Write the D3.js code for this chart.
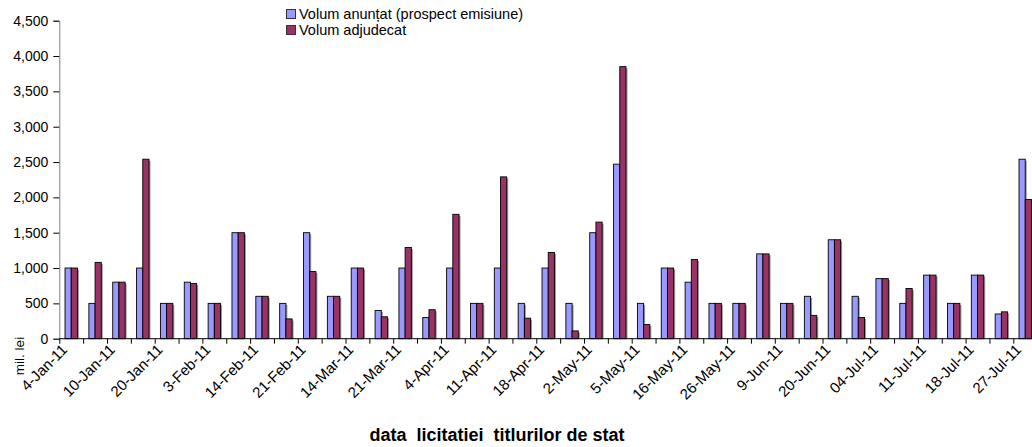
<!DOCTYPE html>
<html><head><meta charset="utf-8">
<script src="https://cdn.jsdelivr.net/npm/d3@7"></script>
<style>
html,body{margin:0;padding:0;background:#fff;overflow:hidden}
text{font-family:"Liberation Sans",Arial,sans-serif}
</style></head>
<body><svg id="c" width="1032" height="447"></svg>
<script>
// tick labels (every other category is labelled)
const tickLabels = ["4-Jan-11","10-Jan-11","20-Jan-11","3-Feb-11","14-Feb-11","21-Feb-11","14-Mar-11","21-Mar-11","4-Apr-11","11-Apr-11","18-Apr-11","2-May-11","5-May-11","16-May-11","26-May-11","9-Jun-11","20-Jun-11","04-Jul-11","11-Jul-11","18-Jul-11","27-Jul-11"];
// announced volume (mil. lei)
const anuntat = [1000,500,800,1000,500,800,500,1500,600,500,1500,600,1000,400,1000,300,1000,500,1000,500,1000,500,1500,2470,500,1000,800,500,500,1200,500,600,1400,600,850,500,900,500,900,350,2540];
// awarded volume (mil. lei)
const adjudecat = [1000,1080,800,2540,500,780,500,1500,600,280,950,600,1000,310,1290,410,1760,500,2290,290,1220,110,1650,3850,200,1000,1120,500,500,1200,500,330,1400,300,850,710,900,500,900,380,1970];
const seriesNames = ["Volum anunțat (prospect emisiune)","Volum adjudecat"];
const seriesColors = ["#9999FF","#993366"];
const yTicks = [0,500,1000,1500,2000,2500,3000,3500,4000,4500];

const FONT = "'Liberation Sans', Arial, sans-serif";
const svg = d3.select("#c");
const n = anuntat.length;
const x0 = 59.3, step = 23.85;
const idx = d3.range(n);
const x = d3.scaleBand().domain(idx).range([x0, x0 + step*n]).paddingInner(0.48).paddingOuter(0.24);
const xs = d3.scaleBand().domain([0,1]).range([0, x.bandwidth()]);
const y = d3.scaleLinear().domain([0,4500]).range([338.7, 20.7]);

const data = idx.map(i => ({i, v:[anuntat[i], adjudecat[i]]}));

// shadows
const g = svg.append("g");
data.forEach(d => {
  d.v.forEach((v,s) => {
    g.append("rect")
      .attr("x", x(d.i) + xs(s) + 1.5)
      .attr("y", y(v) + 1.5)
      .attr("width", xs.bandwidth())
      .attr("height", Math.max(0, y(0) - y(v) - 1.5))
      .attr("fill", "#999");
  });
});
data.forEach(d => {
  d.v.forEach((v,s) => {
    g.append("rect")
      .attr("x", x(d.i) + xs(s))
      .attr("y", y(v))
      .attr("width", xs.bandwidth())
      .attr("height", y(0) - y(v))
      .attr("fill", seriesColors[s])
      .attr("stroke", "#000")
      .attr("stroke-width", 0.9);
  });
});

// y axis
const ya = svg.append("g").attr("transform", `translate(${x0},0)`)
  .call(d3.axisLeft(y).tickValues(yTicks).tickSize(6).tickPadding(5).tickFormat(d3.format(",")));
ya.select(".domain").attr("stroke", "#808080");
ya.selectAll(".tick line").attr("stroke", "#000");
ya.selectAll("text").attr("font-size", 14).attr("fill", "#000").attr("font-family", FONT);

// x axis: boundaries ticks
const xb = d3.scaleLinear().domain([0,n]).range([x0, x0 + step*n]);
const xa = svg.append("g").attr("transform", `translate(0,${y(0)})`)
  .call(d3.axisBottom(xb).tickValues(d3.range(n+1)).tickSize(5).tickFormat(""));
xa.select(".domain").attr("stroke", "#000").attr("d", `M${x0},0H${x0+step*n}`);
xa.selectAll(".tick line").attr("stroke", "#000");

// x labels
svg.append("g").selectAll("text").data(tickLabels).join("text")
  .attr("transform", (d,k) => `translate(${x(k*2) + x.bandwidth()/2 - 3},${y(0)+12}) rotate(-45)`)
  .attr("text-anchor", "end")
  .attr("font-size", 15)
  .attr("fill", "#000")
  .text(d => d);

// y axis title
svg.append("text")
  .attr("transform", `translate(24,356) rotate(-90)`)
  .attr("text-anchor", "middle")
  .attr("font-size", 13.5)
  .text("mil. lei");

// x axis title
svg.append("text")
  .attr("x", 497).attr("y", 441)
  .attr("text-anchor", "middle")
  .attr("font-size", 18)
  .attr("font-weight", "bold")
  .attr("xml:space", "preserve")
  .style("white-space", "pre")
  .text("data  licitatiei  titlurilor de stat");

// legend
const lg = svg.append("g");
seriesNames.forEach((s,k) => {
  lg.append("rect").attr("x", 286.5).attr("y", 9.5 + k*16).attr("width", 9).attr("height", 9)
    .attr("fill", seriesColors[k]).attr("stroke", "#333").attr("stroke-width", 1);
  lg.append("text").attr("x", 299).attr("y", 19 + k*16).attr("font-size", 14.5).attr("fill", "#000").text(s);
});
</script></body></html>
